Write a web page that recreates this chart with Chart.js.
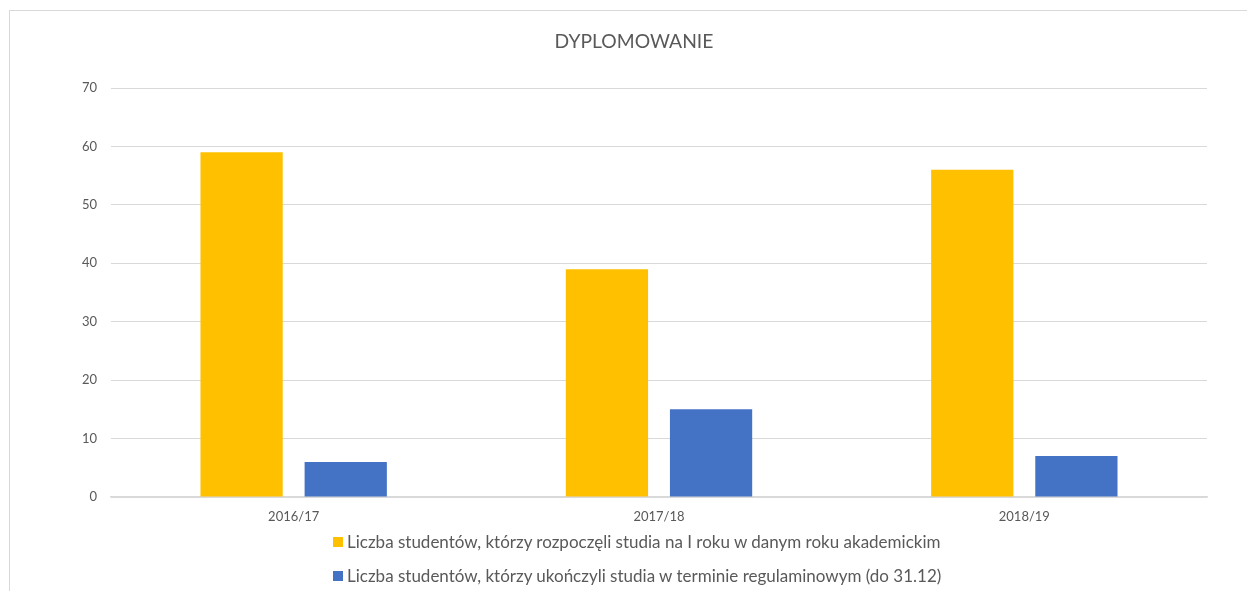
<!DOCTYPE html>
<html><head><meta charset="utf-8">
<script src="https://cdn.jsdelivr.net/npm/chart.js@4.4.1/dist/chart.umd.min.js"></script>
<style>
html,body{margin:0;padding:0;background:#fff;width:1247px;height:591px;overflow:hidden;font-family:Lato,"Open Sans",sans-serif;}
#frame{position:absolute;left:9px;top:10px;width:1260px;height:600px;border:1px solid #d9d9d9;box-sizing:border-box;}
#wrap{position:absolute;left:0;top:0;width:1247px;height:591px;}
#title{position:absolute;left:9px;width:1250px;top:29px;text-align:center;font-size:19.3px;color:#595959;font-family:Lato,"Open Sans",sans-serif;}
#legend{position:absolute;left:333px;top:531px;font-size:17px;color:#595959;font-family:Lato,"Open Sans",sans-serif;}
.li{height:34px;line-height:22px;white-space:nowrap;}
.sw{display:inline-block;width:10px;height:10px;margin-right:4px;vertical-align:1px;}
</style></head>
<body>
<div id="frame"></div>
<div id="wrap"><canvas id="c" width="1247" height="591"></canvas></div>
<div id="title">DYPLOMOWANIE</div>
<div id="legend"></div>
<script>
const categories = ["2016/17", "2017/18", "2018/19"];
const seriesNames = [
  "Liczba studentów, którzy rozpoczęli studia na I roku w danym roku akademickim",
  "Liczba studentów, którzy ukończyli studia w terminie regulaminowym (do 31.12)"
];
const startedValues = [59, 39, 56];
const graduatedValues = [6, 15, 7];
const colors = ["#FFC000", "#4472C4"];

const leg = document.getElementById('legend');
seriesNames.forEach((n, i) => {
  const d = document.createElement('div'); d.className = 'li';
  const s = document.createElement('span'); s.className = 'sw'; s.style.background = colors[i];
  d.appendChild(s); d.appendChild(document.createTextNode(n)); leg.appendChild(d);
});

new Chart(document.getElementById('c'), {
  type: 'bar',
  data: {
    labels: categories,
    datasets: [
      {label: seriesNames[0], data: startedValues, backgroundColor: colors[0], barPercentage: 0.79, categoryPercentage: 0.57},
      {label: seriesNames[1], data: graduatedValues, backgroundColor: colors[1], barPercentage: 0.79, categoryPercentage: 0.57}
    ]
  },
  options: {
    responsive: false, animation: false,
    layout: {padding: {left: 0, right: 40, top: 88, bottom: 54}},
    plugins: {legend: {display: false}, title: {display: false}, tooltip: {enabled: false}},
    scales: {
      x: {
        grid: {display: false, drawTicks: false},
        border: {display: true, color: '#d9d9d9', width: 1.5},
        ticks: {color: '#595959', font: {family: 'Lato', size: 13}, padding: 12},
        afterFit: s => { s.height = 40; }
      },
      y: {
        min: 0, max: 70,
        grid: {color: '#d9d9d9', drawTicks: false},
        border: {display: false},
        ticks: {stepSize: 10, color: '#595959', font: {family: 'Lato', size: 13}, padding: 14},
        afterFit: s => { s.width = 111; }
      }
    }
  }
});
</script>
</body></html>
